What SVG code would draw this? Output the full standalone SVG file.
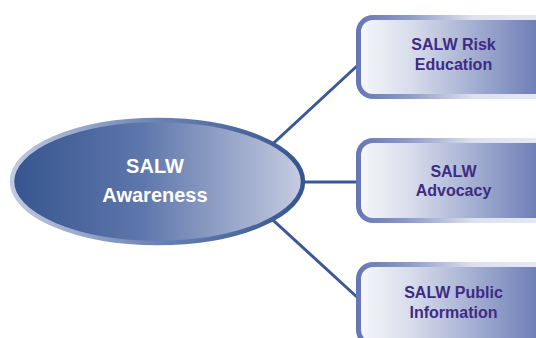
<svg xmlns="http://www.w3.org/2000/svg" width="536" height="338" viewBox="0 0 536 338">
<defs>
<linearGradient id="ellFill" x1="0" y1="0" x2="1" y2="0">
<stop offset="0" stop-color="#36558f"/>
<stop offset="0.45" stop-color="#5e77ab"/>
<stop offset="1" stop-color="#c6cce2"/>
</linearGradient>
<linearGradient id="ellStroke" x1="0" y1="0" x2="1" y2="0">
<stop offset="0" stop-color="#c2c9e0"/>
<stop offset="0.5" stop-color="#6a82b4"/>
<stop offset="1" stop-color="#36558f"/>
</linearGradient>
<linearGradient id="boxFill" gradientUnits="userSpaceOnUse" x1="361" y1="0" x2="536" y2="0">
<stop offset="0" stop-color="#f6f6fa"/>
<stop offset="0.3" stop-color="#d6dbea"/>
<stop offset="1" stop-color="#6f80b8"/>
</linearGradient>
<linearGradient id="boxEdge" gradientUnits="userSpaceOnUse" x1="356" y1="0" x2="536" y2="0">
<stop offset="0" stop-color="#6476b4"/>
<stop offset="0.3" stop-color="#8e9cca"/>
<stop offset="0.65" stop-color="#dde1ee"/>
<stop offset="1" stop-color="#e6e8f0"/>
</linearGradient>
</defs>
<style>
.conn{stroke:#3a5896;stroke-width:3;fill:none}
.edge{fill:url(#boxEdge)}
.inner{fill:url(#boxFill)}
.btxt{font-family:"Liberation Sans",Arial,sans-serif;font-weight:bold;font-size:16px;fill:#3e2b84;text-anchor:middle}
.etxt{font-family:"Liberation Sans",Arial,sans-serif;font-weight:bold;font-size:20px;fill:#ffffff;text-anchor:middle}
</style>
<rect width="536" height="338" fill="#ffffff"/>
<g id="connectors">
<line class="conn" x1="250" y1="165" x2="358" y2="65"/>
<line class="conn" x1="250" y1="182" x2="358" y2="182"/>
<line class="conn" x1="250" y1="199" x2="358" y2="298"/>
</g>
<g id="node-awareness">
<ellipse cx="157.5" cy="181.5" rx="145.5" ry="61.5" fill="url(#ellFill)" stroke="url(#ellStroke)" stroke-width="4.5"/>
<text class="etxt" x="155" y="173">SALW</text>
<text class="etxt" x="155" y="202">Awareness</text>
</g>
<g id="node-risk">
<rect class="edge" x="356" y="15" width="200" height="84" rx="17"/>
<rect class="inner" x="361" y="20" width="200" height="74" rx="12"/>
<text class="btxt" x="453.5" y="50">SALW Risk</text>
<text class="btxt" x="453.5" y="70">Education</text>
</g>
<g id="node-advocacy">
<rect class="edge" x="356" y="138" width="200" height="85" rx="17"/>
<rect class="inner" x="361" y="143" width="200" height="75" rx="12"/>
<text class="btxt" x="453.5" y="177">SALW</text>
<text class="btxt" x="453.5" y="196">Advocacy</text>
</g>
<g id="node-public">
<rect class="edge" x="356" y="262" width="200" height="85" rx="17"/>
<rect class="inner" x="361" y="267" width="200" height="75" rx="12"/>
<text class="btxt" x="453.5" y="298">SALW Public</text>
<text class="btxt" x="453.5" y="318">Information</text>
</g>
</svg>
